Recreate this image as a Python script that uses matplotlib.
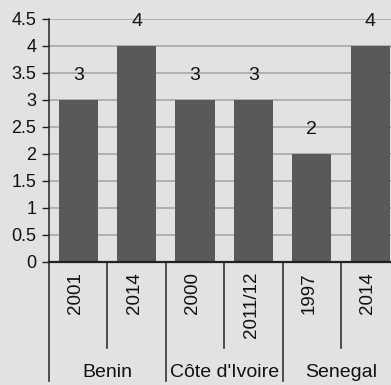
import matplotlib.pyplot as plt
import matplotlib.transforms as mtransforms
import numpy as np

plt.rcParams["font.family"] = ["Liberation Sans", "DejaVu Sans"]

# Data
countries = ["Benin", "Côte d'Ivoire", "Senegal"]
group_sizes = [2, 2, 2]
years = ["2001", "2014", "2000", "2011/12", "1997", "2014"]
values = [3, 4, 3, 3, 2, 4]
y_ticks = [0, 0.5, 1, 1.5, 2, 2.5, 3, 3.5, 4, 4.5]
y_tick_labels = ["0", "0.5", "1", "1.5", "2", "2.5", "3", "3.5", "4", "4.5"]

BG = "#e1e2e4"
BAR = "#58595b"
GRID = "#a7a8aa"
LINE = "#222222"

W, H = 391, 385
fig = plt.figure(figsize=(W / 100, H / 100), dpi=100, facecolor=BG)


def fy(py):
    # pixel row (from top) -> figure fraction
    return (H - py) / H


ax = fig.add_axes([49 / W, fy(261.7), 350.4 / W, (261.7 - 18.5) / H])
ax.set_facecolor(BG)

x = np.arange(len(values))
ax.bar(x, values, width=0.67, color=BAR, zorder=2)
for xi, v in zip(x, values):
    ax.annotate(str(v), (xi, v), xytext=(0, 11), textcoords="offset points",
                ha="center", va="bottom", fontsize=14, color="#111111")

ax.set_xlim(-0.5, len(values) - 0.5)
ax.set_ylim(0, 4.5)
ax.set_yticks(y_ticks, y_tick_labels, fontsize=13)
ax.set_xticks([])
ax.yaxis.grid(True, color=GRID, linewidth=1.2, zorder=0)
ax.set_axisbelow(True)
ax.tick_params(axis="y", length=5, width=1, color=LINE, pad=4, labelcolor="#111111")

for side in ["top", "right"]:
    ax.spines[side].set_visible(False)
ax.spines["left"].set_color(LINE)
ax.spines["bottom"].set_color(LINE)
ax.spines["left"].set_linewidth(1.1)
ax.spines["bottom"].set_linewidth(1.6)

# Category axis below the plot
trans = mtransforms.blended_transform_factory(ax.transData, fig.transFigure)
y_axis = fy(261.7)
y_short = fy(347.7)
y_long = fy(381)

edges = np.cumsum([0] + group_sizes)
for i in range(len(values) + 1):
    xpos = i - 0.5
    y_end = y_long if i in edges else y_short
    ax.plot([xpos, xpos], [y_axis, y_end], transform=trans, color=LINE,
            linewidth=1.1, clip_on=False)

for xi, yr in zip(x, years):
    ax.text(xi - 0.04, fy(272), yr, transform=trans, rotation=90,
            ha="center", va="top", fontsize=13.5, color="#111111")

for name, start, size in zip(countries, edges[:-1], group_sizes):
    center = start + size / 2 - 0.5
    ax.text(center, fy(377), name, transform=trans, ha="center",
            va="baseline", fontsize=14, color="#111111")

fig.savefig("out.png", dpi=100, facecolor=BG)
